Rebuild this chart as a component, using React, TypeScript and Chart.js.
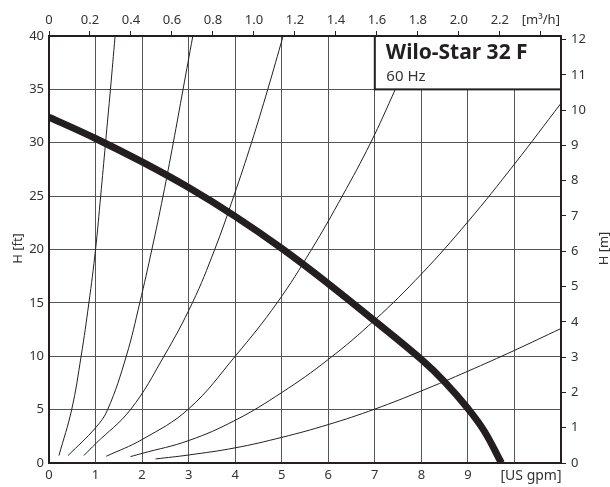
import { useEffect, useRef } from 'react';
import { Chart, registerables } from 'chart.js';

Chart.register(...registerables);

// ---- Data ----
// Pump curve: flow [US gpm] vs head [ft]
const pumpQ = [0, 1, 2, 3, 4, 5, 6, 7, 8, 8.5, 9, 9.35, 9.72];
const pumpH = [32.4, 30.4, 28.2, 25.8, 23.1, 20.1, 16.8, 13.3, 9.7, 7.6, 5.1, 3.0, 0];

// System (resistance) curves
const sys1Q = [0.214, 0.487, 0.69, 0.857, 1.0, 1.11, 1.215, 1.32, 1.42];
const sys1H = [0.7, 5, 10, 15, 20, 25, 30, 35, 40];

const sys2Q = [0.41, 1.0, 1.26, 1.66, 1.95, 2.21, 2.45, 2.67, 2.88, 3.09];
const sys2H = [0.7, 3.3, 5, 10, 15, 20, 25, 30, 35, 40];

const sys3Q = [0.75, 1.0, 1.75, 2.47, 3.08, 3.56, 3.97, 4.35, 4.7, 5.03];
const sys3H = [0.7, 1.8, 5, 10, 15, 20, 25, 30, 35, 40];

const sys4Q = [1.23, 2.0, 3.0, 4.0, 4.9, 5.64, 6.3, 6.91, 7.44, 7.95];
const sys4H = [0.63, 2.2, 5.07, 10, 15, 20, 25, 30, 35, 40];

const sys5Q = [1.75, 2, 3, 4, 5, 6, 7, 8, 9, 10, 11];
const sys5H = [0.6, 0.9, 2.1, 4.0, 6.6, 9.7, 13.4, 17.7, 22.6, 28.0, 33.7];

const sys6Q = [2.29, 3, 4, 5, 6, 7, 8, 9, 10, 11];
const sys6H = [0.38, 0.75, 1.42, 2.4, 3.6, 5.05, 6.75, 8.6, 10.55, 12.6];

// Axis ranges / tick labels
const xMaxGpm = 11;
const yMaxFt = 40;
const gpmToM3h = 0.2271247;
const y2MaxM = 12.1;
const bottomTickLabels = ['0', '1', '2', '3', '4', '5', '6', '7', '8', '9', '', ''];
const topTickLabels = ['0', '0.2', '0.4', '0.6', '0.8', '1.0', '1.2', '1.4', '1.6', '1.8', '2.0', '2.2', '[m³/h]'];
const rightTickLabels = ['0', '1', '2', '3', '4', '5', '6', '7', '8', '9', '10', '11', '12'];

const titleText = 'Wilo-Star 32 F';
const subTitleText = '60 Hz';
const xUnitText = '[US gpm]';
const yLeftTitle = 'H [ft]';
const yRightTitle = 'H [m]';

const FONT = "'Noto Sans', sans-serif";
const INK = '#231f20';
const TEXT = '#333';
const GRID = '#555';

const pts = (q: number[], h: number[]) => q.map((v, i) => ({ x: v, y: h[i] }));

const overlayPlugin = {
  id: 'overlay',
  afterDraw(chart: any) {
    const { ctx, chartArea: a, scales } = chart;
    const x = scales.x;
    const y = scales.y;
    ctx.save();
    // legend box
    const bx = x.getPixelForValue(7);
    const by = a.top;
    const bw = a.right - bx;
    const bh = y.getPixelForValue(35) - a.top;
    ctx.fillStyle = '#fff';
    ctx.fillRect(bx, by, bw, bh);
    ctx.strokeStyle = INK;
    ctx.lineWidth = 2;
    ctx.strokeRect(bx, by, bw, bh);
    ctx.fillStyle = INK;
    ctx.textAlign = 'left';
    ctx.textBaseline = 'alphabetic';
    ctx.font = `bold 21px ${FONT}`;
    ctx.fillText(titleText, bx + 11, by + 22.5);
    ctx.fillStyle = TEXT;
    ctx.font = `15px ${FONT}`;
    ctx.fillText(subTitleText, bx + 11.5, by + 45);

    // x unit label
    ctx.font = `14px ${FONT}`;
    ctx.textAlign = 'center';
    ctx.fillText(xUnitText, 531, a.bottom + 16.5);

    // y titles
    ctx.font = `13px ${FONT}`;
    const cy = (a.top + a.bottom) / 2 - 1;
    ctx.textBaseline = 'middle';
    ctx.save();
    ctx.translate(18, cy);
    ctx.rotate(-Math.PI / 2);
    ctx.fillText(yLeftTitle, 0, 0);
    ctx.restore();
    ctx.save();
    ctx.translate(604.5, cy);
    ctx.rotate(-Math.PI / 2);
    ctx.fillText(yRightTitle, 0, 0);
    ctx.restore();
    ctx.restore();
  },
};

const thin = (q: number[], h: number[]) => ({
  data: pts(q, h),
  borderColor: INK,
  borderWidth: 1,
  pointRadius: 0,
  tension: 0.4,
  fill: false,
});

export default function App() {
  const ref = useRef<HTMLCanvasElement>(null);
  useEffect(() => {
    if (!ref.current) return;
    const tickFont = { family: FONT, size: 13 };
    const chart = new Chart(ref.current, {
      type: 'line',
      data: {
        datasets: [
          {
            data: pts(pumpQ, pumpH),
            borderColor: INK,
            borderWidth: 7,
            pointRadius: 0,
            tension: 0.4,
            fill: false,
            borderCapStyle: 'butt',
          },
          thin(sys1Q, sys1H),
          thin(sys2Q, sys2H),
          thin(sys3Q, sys3H),
          thin(sys4Q, sys4H),
          thin(sys5Q, sys5H),
          thin(sys6Q, sys6H),
        ],
      },
      options: {
        responsive: false,
        animation: false,
        layout: { padding: 0 },
        plugins: { legend: { display: false }, tooltip: { enabled: false } },
        scales: {
          x: {
            type: 'linear',
            position: 'bottom',
            min: 0,
            max: xMaxGpm,
            afterFit: (s: any) => { s.height = 24; },
            ticks: {
              stepSize: 1,
              includeBounds: false,
              autoSkip: false,
              maxRotation: 0,
              padding: 4,
              color: TEXT,
              font: tickFont,
              callback: (_v: any, i: number) => bottomTickLabels[i] ?? '',
            },
            grid: { color: GRID, lineWidth: 1, drawTicks: false },
            border: { display: true, color: INK, width: 2 },
          },
          x2: {
            type: 'linear',
            position: 'top',
            min: 0,
            max: xMaxGpm * gpmToM3h,
            afterFit: (s: any) => { s.height = 36; },
            ticks: {
              stepSize: 0.2,
              includeBounds: false,
              autoSkip: false,
              maxRotation: 0,
              padding: 3,
              color: TEXT,
              font: tickFont,
              callback: (_v: any, i: number) => topTickLabels[i] ?? '',
            },
            grid: { drawOnChartArea: false, drawTicks: true, tickLength: 5, color: INK, lineWidth: 1 },
            border: { display: true, color: INK, width: 2 },
          },
          y: {
            type: 'linear',
            position: 'left',
            min: 0,
            max: yMaxFt,
            afterFit: (s: any) => { s.width = 49; },
            ticks: {
              stepSize: 5,
              includeBounds: false,
              autoSkip: false,
              padding: 5,
              color: TEXT,
              font: tickFont,
            },
            grid: { color: GRID, lineWidth: 1, drawTicks: false },
            border: { display: true, color: INK, width: 2 },
          },
          y2: {
            type: 'linear',
            position: 'right',
            min: 0,
            max: y2MaxM,
            afterFit: (s: any) => { s.width = 49; },
            ticks: {
              stepSize: 1,
              includeBounds: false,
              autoSkip: false,
              padding: 5,
              color: TEXT,
              font: tickFont,
              callback: (_v: any, i: number) => rightTickLabels[i] ?? '',
            },
            grid: { drawOnChartArea: false, drawTicks: true, tickLength: 5, color: INK, lineWidth: 1 },
            border: { display: true, color: INK, width: 2 },
          },
        },
      },
      plugins: [overlayPlugin],
    } as any);
    return () => chart.destroy();
  }, []);
  return (
    <div style={{ position: 'absolute', left: 0, top: 0, width: 610, height: 487, background: '#fff' }}>
      <canvas ref={ref} width={610} height={487} style={{ display: 'block' }} />
    </div>
  );
}
